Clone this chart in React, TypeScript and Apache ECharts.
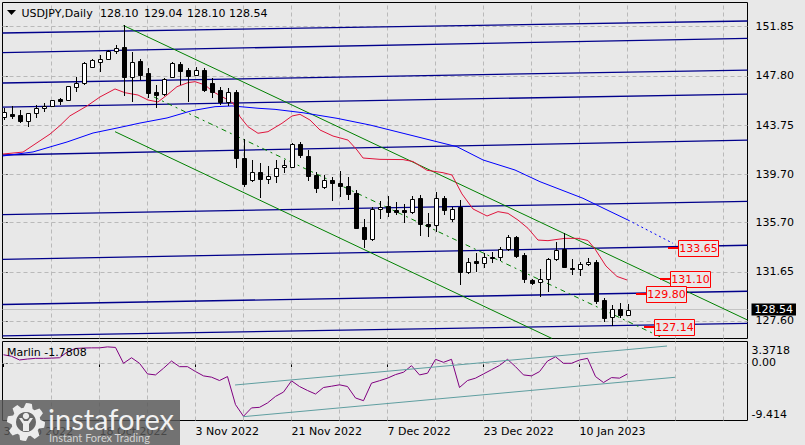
import React, { useEffect, useRef } from 'react';
import * as echarts from 'echarts';

const FONT = '"DejaVu Sans", Tahoma, sans-serif';
const BG = '#e8e8e8';

// ---------------- data ----------------
const symbolTitle = 'USDJPY,Daily';
const headerOHLC = ['128.10', '129.04', '128.10', '128.54'];
const tickBars = [0, 12, 24, 36, 48, 60, 72];
const tickDates = ['30 Sep 2022', '18 Oct 2022', '3 Nov 2022', '21 Nov 2022', '7 Dec 2022', '23 Dec 2022', '10 Jan 2023'];
const gridBars = [6, 12, 18, 24, 30, 36, 42, 48, 54, 60, 66, 72, 78, 84, 90];
const priceTicks = [127.6, 131.65, 135.7, 139.7, 143.75, 147.8, 151.85];
const oscTicks = [3.3718, 0, -9.414];

// [open, close, low, high] per daily bar, 30 Sep 2022 .. 18 Jan 2023
const candles: number[][] = [
  [144.43, 144.8, 144.16, 145.13], [144.63, 144.49, 144.22, 145.32], [144.57, 144.08, 143.94, 144.99],
  [144.08, 144.71, 143.56, 144.76], [144.71, 145.12, 144.3, 145.4], [145.12, 145.34, 144.85, 145.54],
  [145.32, 145.81, 145.28, 145.85], [145.89, 145.75, 145.4, 146.0], [145.81, 146.97, 145.75, 147.0],
  [146.91, 147.24, 146.5, 147.73], [147.24, 148.83, 147.05, 148.97], [148.55, 149.11, 148.5, 149.16],
  [148.98, 149.2, 148.14, 149.52], [149.2, 149.87, 149.15, 149.97], [149.87, 150.12, 149.58, 150.34],
  [150.15, 147.68, 146.14, 151.99], [147.73, 148.97, 145.67, 149.79], [149.05, 147.87, 147.46, 149.16],
  [148.01, 146.36, 145.95, 148.42], [146.49, 146.22, 145.13, 147.05], [146.3, 147.52, 146.1, 147.6],
  [147.73, 148.83, 147.6, 148.97], [148.78, 148.22, 147.05, 148.97], [148.28, 147.79, 145.67, 148.42],
  [147.87, 148.28, 147.8, 148.5], [148.28, 146.63, 146.49, 148.42], [147.24, 146.49, 145.95, 147.6],
  [146.63, 145.67, 145.4, 146.9], [145.67, 146.49, 145.33, 146.8], [146.49, 141.0, 140.18, 146.63],
  [141.0, 138.86, 138.67, 142.57], [139.22, 139.9, 139.08, 140.87], [139.9, 139.28, 137.71, 140.64],
  [139.28, 139.55, 138.9, 140.4], [139.55, 140.18, 138.95, 140.87], [140.27, 140.46, 139.8, 140.87],
  [140.31, 142.19, 140.2, 142.3], [142.19, 141.28, 141.0, 142.38], [141.2, 139.57, 139.16, 141.69],
  [139.63, 138.58, 138.12, 139.9], [138.62, 139.22, 138.45, 139.63], [139.22, 138.95, 137.51, 139.49],
  [139.0, 138.73, 137.84, 139.98], [138.72, 138.04, 137.6, 139.5], [138.17, 135.29, 135.2, 138.42],
  [135.32, 134.33, 133.59, 135.98], [134.33, 136.8, 134.2, 137.0], [136.81, 137.02, 135.98, 137.51],
  [137.08, 136.61, 136.2, 137.9], [136.75, 136.61, 136.3, 137.4], [136.73, 136.62, 135.65, 137.24],
  [136.56, 137.63, 136.4, 137.9], [137.71, 135.57, 134.61, 137.98], [135.57, 135.43, 134.55, 136.47],
  [135.51, 137.76, 134.96, 138.25], [137.76, 136.75, 136.3, 137.9], [135.98, 136.83, 135.78, 137.02],
  [137.02, 131.66, 130.6, 137.57], [131.66, 132.45, 131.47, 132.77], [132.54, 132.35, 131.66, 133.18],
  [132.35, 132.9, 132.0, 133.18], [132.9, 132.85, 132.35, 133.26], [132.9, 133.5, 132.57, 133.72],
  [133.51, 134.55, 133.4, 134.72], [134.55, 132.95, 132.8, 134.6], [133.04, 131.03, 130.76, 133.18],
  [130.98, 130.7, 130.6, 131.1], [130.79, 131.06, 129.55, 131.86], [131.04, 132.69, 130.02, 132.77],
  [132.69, 133.45, 132.57, 134.13], [133.51, 132.08, 131.94, 134.83], [132.0, 131.92, 131.38, 132.69],
  [131.86, 132.27, 131.3, 132.5], [132.27, 132.49, 132.1, 132.77], [132.49, 129.27, 129.0, 132.6],
  [129.33, 127.82, 127.54, 129.47], [127.9, 128.57, 127.19, 128.92], [128.57, 128.1, 127.82, 129.1],
  [128.1, 128.54, 128.1, 129.04],
];

// moving averages: [bar, price]
const redMA: number[][] = [
  [-0.06, 141.36], [2.44, 141.52], [5.81, 143.0], [7.06, 143.7], [8.3, 144.5], [10.44, 145.32], [12.06, 146.06],
  [13.94, 146.72], [15.19, 146.41], [16.81, 146.22], [18.06, 145.81], [19.31, 145.65], [20.44, 146.22],
  [21.69, 146.91], [23.06, 147.24], [23.94, 147.32], [25.19, 147.05], [26.19, 146.49], [27.69, 145.95],
  [28.69, 145.56], [29.56, 144.43], [30.56, 143.61], [31.81, 143.07], [33.06, 143.2], [34.81, 143.89],
  [36.06, 144.49], [37.06, 144.63], [38.31, 144.16], [39.56, 143.34], [41.19, 142.84], [43.06, 142.51],
  [44.19, 141.69], [44.94, 141.03], [47.06, 140.92], [49.94, 140.9], [51.19, 140.74], [52.94, 140.02],
  [54.94, 139.82], [56.06, 139.63], [57.31, 138.07], [58.69, 136.83], [60.44, 136.25], [61.81, 136.61],
  [63.06, 136.47], [64.31, 135.92], [65.56, 135.24], [66.81, 134.27], [68.06, 134.22], [70.19, 134.41],
  [71.81, 134.41], [73.06, 134.23], [73.94, 133.53], [75.31, 132.13], [76.69, 131.27], [77.94, 130.98],
];
const blueMA: number[][] = [
  [-0.06, 141.2], [3.69, 141.53], [7.94, 142.35], [11.19, 143.09], [14.19, 143.5], [17.06, 143.91],
  [20.44, 144.33], [23.56, 144.93], [26.44, 145.26], [28.56, 145.32], [31.81, 145.13], [33.94, 145.04],
  [37.44, 144.76], [41.69, 144.3], [45.81, 143.75], [49.94, 143.07], [54.19, 142.37], [56.69, 141.96],
  [59.94, 140.87], [63.94, 140.04], [67.06, 139.08], [72.44, 137.71], [75.44, 136.75], [78.06, 135.92],
];
const blueForecast: number[][] = [[78.06, 135.92], [83.69, 134.0]];

// near-horizontal levels: price at left edge / right edge
const levelsLeft = [151.33, 149.72, 147.21, 145.23, 141.28, 136.37, 132.67, 128.96, 126.37];
const levelsRight = [152.32, 150.89, 148.28, 146.3, 142.51, 137.46, 133.84, 130.05, 127.41];

// descending channel [bar, price]
const channelUpper: number[][] = [[15, 151.95], [93, 127.68]];
const channelLower: number[][] = [[13.94, 143.2], [68.56, 126.16]];
const channelMid: number[][] = [[18.8, 146.06], [82.4, 126.2]];

const bidPrice = 128.54;
const tagPrices = [133.65, 131.1, 129.8, 127.14];

// Marlin oscillator, one value per bar
const oscValues = [
  1.35, 1.1, 0.5, 0.65, 0.76, 0.76, 0.8, 0.86, 1.83, 2.38,
  2.45, 2.48, 2.48, 2.64, 2.55, -0.05, 0.86, -0.05, -1.79, -1.95,
  -0.86, 0.32, -0.6, -0.6, -1.4, -2.11, -2.32, -2.87, -2.22, -6.82,
  -8.72, -7.35, -7.26, -6.54, -5.47, -4.76, -2.92, -3.85, -4.5, -5.08,
  -4.01, -3.8, -3.57, -3.85, -5.73, -6.17, -3.3, -2.9, -2.48, -1.9,
  -1.51, -0.44, -1.95, -1.67, 0.6, 0.11, 0.6, -4.01, -2.87, -2.48,
  -1.79, -1.1, -0.4, 0.6, -0.6, -1.95, -2.11, -1.41, 0.32, 1.02,
  -0.05, -0.05, 0.49, 0.76, -2.22, -3.2, -2.39, -2.48, -1.78,
];
const oscLast = -1.7808;
const oscUpper: number[][] = [[28.94, -3.6], [82.94, 2.78]];
const oscLower: number[][] = [[29.94, -8.79], [83.94, -2.34]];

// ---------------- layout ----------------
const X_MIN = -0.125;
const X_MAX = 93.0;
const Y_MIN = 126.158;
const Y_MAX = 153.844;
const OSC_MIN = -9.414;
const OSC_MAX = 3.52;
const tagStart = [83, 82, 79, 80];

function buildOption(): any {
  const lineBase = { type: 'line', symbol: 'none', silent: true, animation: false, clip: true };

  const levelSeries = levelsLeft.map((p, k) => ({
    ...lineBase,
    xAxisIndex: 0, yAxisIndex: 0, z: 2,
    data: [[X_MIN, p], [X_MAX, levelsRight[k]]],
    lineStyle: { color: '#00008b', width: 1.3 },
    markLine: k === 0 ? {
      silent: true, symbol: 'none', z: 1, animation: false,
      label: { show: false },
      data: [
        ...priceTicks.map((v) => ({ yAxis: v, lineStyle: { color: '#b9b9b9', type: [4, 3], width: 1 } })),
        ...gridBars.map((v) => ({ xAxis: v, lineStyle: { color: '#b9b9b9', type: [4, 3], width: 1 } })),
        {
          yAxis: bidPrice,
          lineStyle: { color: '#c4c4c4', type: 'solid', width: 1 },
          label: {
            show: true, position: 'end', distance: 4, formatter: bidPrice.toFixed(2),
            color: '#fff', backgroundColor: '#000', padding: [1, 3, 0, 3],
            fontSize: 11, fontFamily: FONT,
          },
        },
      ],
    } : undefined,
  }));

  const green = (data: number[][], dashed: boolean) => ({
    ...lineBase, xAxisIndex: 0, yAxisIndex: 0, z: 2, data,
    lineStyle: { color: '#008000', width: 1, type: dashed ? [5, 4, 2, 4] : 'solid' },
  });

  const candleSeries = {
    type: 'custom', xAxisIndex: 0, yAxisIndex: 0, z: 5, silent: true, clip: true,
    data: candles.map((c, i) => [i, c[0], c[1], c[2], c[3]]),
    encode: { x: 0, y: [1, 2, 3, 4] },
    renderItem: (params: any, api: any) => {
      const i = api.value(0);
      const o = api.value(1), c = api.value(2), l = api.value(3), h = api.value(4);
      const po = api.coord([i, o]);
      const pc = api.coord([i, c]);
      const pl = api.coord([i, l]);
      const ph = api.coord([i, h]);
      const x = Math.round(po[0]) + 0.5;
      const top = Math.round(Math.min(po[1], pc[1])) + 0.5;
      let bot = Math.round(Math.max(po[1], pc[1])) + 0.5;
      if (bot - top < 1) bot = top + 1;
      const up = c >= o;
      return {
        type: 'group',
        children: [
          { type: 'line', shape: { x1: x, y1: Math.round(ph[1]), x2: x, y2: Math.round(pl[1]) }, style: { stroke: '#000', lineWidth: 1 } },
          { type: 'rect', shape: { x: x - 2, y: top, width: 4, height: bot - top }, style: { fill: up ? '#fff' : '#000', stroke: '#000', lineWidth: 1 } },
        ],
      };
    },
  };

  const tagSeries = {
    type: 'custom', xAxisIndex: 0, yAxisIndex: 0, z: 7, silent: true,
    data: tagPrices.map((p, k) => [tagStart[k], p]),
    encode: { x: 0, y: 1 },
    renderItem: (params: any, api: any) => {
      const pt = api.coord([api.value(0), api.value(1)]);
      const x0 = Math.round(pt[0]);
      const y = Math.round(pt[1]);
      const txt = Number(api.value(1)).toFixed(2);
      return {
        type: 'group',
        children: [
          { type: 'line', shape: { x1: x0, y1: y, x2: x0 + 10, y2: y }, style: { stroke: '#ff0000', lineWidth: 2 } },
          { type: 'rect', shape: { x: x0 + 10.5, y: y - 7.5, width: 40, height: 16 }, style: { fill: BG, stroke: '#ff0000', lineWidth: 1 } },
          {
            type: 'text', x: x0 + 30.5, y: y + 0.5,
            style: { text: txt, fill: '#ff0000', font: '11px ' + FONT, align: 'center', verticalAlign: 'middle', textAlign: 'center', textVerticalAlign: 'middle' },
          },
        ],
      };
    },
  };

  const gearPts: number[][] = [];
  for (let k = 0; k < 40; k++) {
    const a = (k / 40) * Math.PI * 2;
    const r = k % 5 < 3 ? 19 : 14.5;
    gearPts.push([26 + r * Math.cos(a), 422 + r * Math.sin(a)]);
  }

  const txt = (text: string, x: number, y: number, extra: any = {}) => ({
    type: 'text', x, y, z: 10,
    style: { text, fill: '#000', font: '11px ' + FONT, align: 'left', verticalAlign: 'middle', textAlign: 'left', textVerticalAlign: 'middle', ...extra },
  });

  const headerX = [100, 144, 187, 229];

  return {
    animation: false,
    backgroundColor: BG,
    grid: [
      { left: 2.5, top: 2.5, width: 745, height: 336, show: true, borderColor: '#000', borderWidth: 1, backgroundColor: 'transparent' },
      { left: 2.5, top: 341.5, width: 745, height: 79, show: true, borderColor: '#000', borderWidth: 1, backgroundColor: 'transparent' },
    ],
    xAxis: [
      { type: 'value', gridIndex: 0, min: X_MIN, max: X_MAX, show: false },
      {
        type: 'value', gridIndex: 1, min: X_MIN, max: X_MAX,
        axisLine: { show: false }, splitLine: { show: false },
        axisTick: { show: true, customValues: tickBars, length: 4, lineStyle: { color: '#000' } },
        axisLabel: {
          customValues: tickBars, align: 'left', margin: 5, color: '#000', fontSize: 11, fontFamily: FONT,
          formatter: (v: number) => tickDates[tickBars.indexOf(Math.round(v))] ?? '',
        },
      },
    ],
    yAxis: [
      {
        type: 'value', gridIndex: 0, position: 'right', min: Y_MIN, max: Y_MAX,
        axisLine: { show: false }, splitLine: { show: false },
        axisTick: { show: true, customValues: priceTicks, length: 4, lineStyle: { color: '#000' } },
        axisLabel: { customValues: priceTicks, margin: 8, color: '#000', fontSize: 11, fontFamily: FONT, formatter: (v: number) => v.toFixed(2) },
      },
      {
        type: 'value', gridIndex: 1, position: 'right', min: OSC_MIN, max: OSC_MAX,
        axisLine: { show: false }, splitLine: { show: false },
        axisTick: { show: true, customValues: [0], length: 4, lineStyle: { color: '#000' } },
        axisLabel: {
          customValues: oscTicks, margin: 4, color: '#000', fontSize: 11, fontFamily: FONT,
          formatter: (v: number) => (v > 1 ? '{t|' + v.toFixed(4) + '}' : v < -1 ? '{b|' + v.toFixed(3) + '}' : '{m|' + v.toFixed(2) + '}'),
          rich: {
            t: { padding: [17, 0, 0, 0], fontSize: 11, fontFamily: FONT, color: '#000' },
            b: { padding: [0, 0, 13, 0], fontSize: 11, fontFamily: FONT, color: '#000' },
            m: { fontSize: 11, fontFamily: FONT, color: '#000' },
          },
        },
      },
    ],
    series: [
      ...levelSeries,
      green(channelUpper, false),
      green(channelLower, false),
      green(channelMid, true),
      { ...lineBase, xAxisIndex: 0, yAxisIndex: 0, z: 3, data: blueMA, lineStyle: { color: '#0000ff', width: 1 } },
      { ...lineBase, xAxisIndex: 0, yAxisIndex: 0, z: 3, data: blueForecast, lineStyle: { color: '#0000ff', width: 1, type: [2, 3] } },
      { ...lineBase, xAxisIndex: 0, yAxisIndex: 0, z: 3, data: redMA, lineStyle: { color: '#e0143c', width: 1 } },
      candleSeries,
      tagSeries,
      {
        ...lineBase, xAxisIndex: 1, yAxisIndex: 1, z: 3,
        data: oscValues.map((v, i) => [i, v]),
        lineStyle: { color: '#800080', width: 1 },
        markLine: {
          silent: true, symbol: 'none', z: 1, animation: false, label: { show: false },
          data: [
            { yAxis: 0, lineStyle: { color: '#b9b9b9', type: [4, 3], width: 1 } },
            ...gridBars.map((v) => ({ xAxis: v, lineStyle: { color: '#b9b9b9', type: [4, 3], width: 1 } })),
          ],
        },
      },
      { ...lineBase, xAxisIndex: 1, yAxisIndex: 1, z: 3, data: oscUpper, lineStyle: { color: '#5f9ea0', width: 1 } },
      { ...lineBase, xAxisIndex: 1, yAxisIndex: 1, z: 3, data: oscLower, lineStyle: { color: '#5f9ea0', width: 1 } },
    ],
    graphic: [
      { type: 'polygon', z: 10, shape: { points: [[7, 10], [16, 10], [11.5, 15]] }, style: { fill: '#000' } },
      txt(symbolTitle, 21.5, 13),
      ...headerOHLC.map((s, k) => txt(s, headerX[k], 13)),
      txt('Marlin ' + oscLast.toFixed(4), 7, 352),
      // watermark
      { type: 'rect', z: 20, shape: { x: 0, y: 400, width: 180, height: 45 }, style: { fill: 'rgba(88,88,88,0.82)' } },
      { type: 'polygon', z: 21, shape: { points: gearPts }, style: { fill: '#ececec' } },
      { type: 'circle', z: 22, shape: { cx: 26, cy: 422, r: 10 }, style: { fill: '#676767' } },
      { type: 'circle', z: 23, shape: { cx: 26, cy: 416, r: 3.2 }, style: { fill: '#ececec' } },
      { type: 'polygon', z: 23, shape: { points: [[19, 418], [22, 418], [24, 421], [28, 421], [30, 418], [33, 418], [29, 424], [29, 431], [23, 431], [23, 424]] }, style: { fill: '#ececec' } },
      {
        type: 'text', z: 21, x: 48, y: 418,
        style: { text: 'instaforex', fill: '#f2f2f2', font: '29px Lato, "Open Sans", sans-serif', align: 'left', verticalAlign: 'middle', textAlign: 'left', textVerticalAlign: 'middle' },
      },
      {
        type: 'text', z: 21, x: 49, y: 437,
        style: { text: 'Instant Forex Trading', fill: '#d4d4d4', font: '11px Lato, "Open Sans", sans-serif', align: 'left', verticalAlign: 'middle', textAlign: 'left', textVerticalAlign: 'middle' },
      },
    ],
  };
}

export default function App() {
  const ref = useRef<HTMLDivElement>(null);
  useEffect(() => {
    if (!ref.current) return;
    const chart = echarts.init(ref.current, null, { renderer: 'svg' });
    chart.setOption(buildOption());
    return () => chart.dispose();
  }, []);
  return <div ref={ref} style={{ position: 'fixed', left: 0, top: 0, width: 805, height: 445, background: BG }} />;
}
